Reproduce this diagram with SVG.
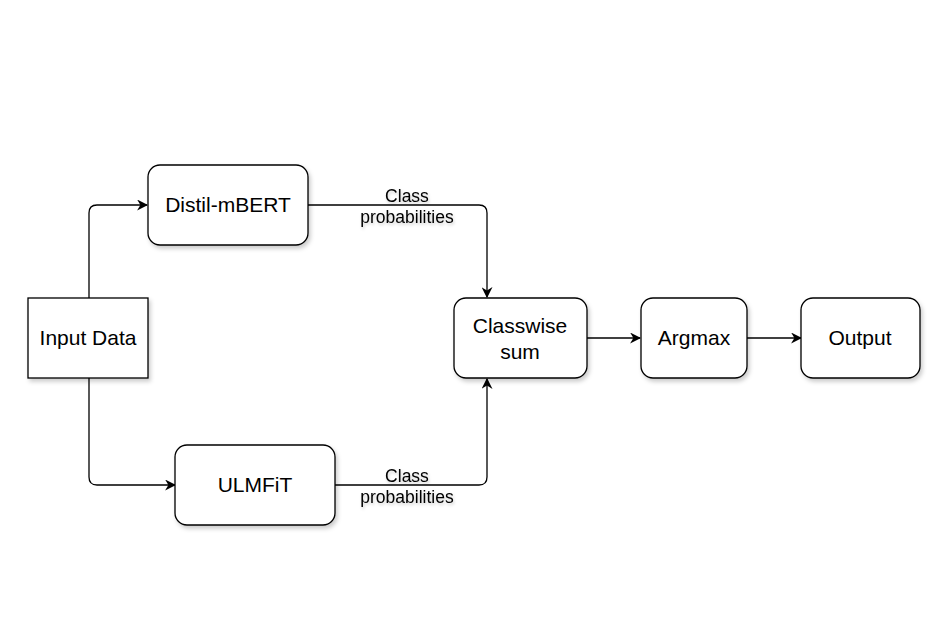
<svg xmlns="http://www.w3.org/2000/svg" width="944" height="623" viewBox="0 0 944 623">
<style>
.box{fill:#fff;stroke:#000;stroke-width:1.3;filter:url(#sh)}
.nt{font-family:"Liberation Sans",Arial,sans-serif;font-size:21px;fill:#000;text-anchor:middle}
.lt{font-family:"Liberation Sans",Arial,sans-serif;font-size:17.5px;fill:#000;text-anchor:middle;filter:url(#tsh)}
.cn{fill:none;stroke:#000;stroke-width:1.3}
</style>
<defs>
<filter id="sh" x="-20%" y="-20%" width="150%" height="150%">
<feDropShadow dx="2" dy="3" stdDeviation="2" flood-color="#000" flood-opacity="0.2"/>
</filter>
<filter id="tsh" x="-20%" y="-30%" width="140%" height="170%">
<feDropShadow dx="1" dy="2" stdDeviation="1.5" flood-color="#000" flood-opacity="0.2"/>
</filter>
<marker id="ar" viewBox="0 0 10 10" refX="9" refY="5" markerWidth="11" markerHeight="11" markerUnits="userSpaceOnUse" orient="auto">
<path d="M0,0 L10,5 L0,10 L3,5 Z" fill="#000"/>
</marker>
</defs>
<rect width="944" height="623" fill="#fff"/>
<g id="connectors">
<path class="cn" d="M89,298 L89,213 Q89,205 97,205 L147,205" marker-end="url(#ar)"/>
<path class="cn" d="M89,378 L89,477 Q89,485 97,485 L175,485" marker-end="url(#ar)"/>
<path class="cn" d="M308,205 L479,205 Q487,205 487,213 L487,297" marker-end="url(#ar)"/>
<path class="cn" d="M335,485 L479,485 Q487,485 487,477 L487,379" marker-end="url(#ar)"/>
<path class="cn" d="M587,338 L640,338" marker-end="url(#ar)"/>
<path class="cn" d="M747,338 L801,338" marker-end="url(#ar)"/>
<text class="lt" x="407" y="202">Class</text>
<text class="lt" x="407" y="223">probabilities</text>
<text class="lt" x="407" y="482">Class</text>
<text class="lt" x="407" y="503">probabilities</text>
</g>
<g id="input">
<rect class="box" x="28" y="298" width="120" height="80"/>
<text class="nt" x="88" y="345">Input Data</text>
</g>
<g id="distil">
<rect class="box" x="148" y="165" width="160" height="80" rx="12"/>
<text class="nt" x="228" y="212">Distil-mBERT</text>
</g>
<g id="ulmfit">
<rect class="box" x="175" y="445" width="160" height="80" rx="12"/>
<text class="nt" x="255" y="492">ULMFiT</text>
</g>
<g id="classwise">
<rect class="box" x="454" y="298" width="133" height="80" rx="12"/>
<text class="nt" x="520" y="333">Classwise</text>
<text class="nt" x="520" y="359">sum</text>
</g>
<g id="argmax">
<rect class="box" x="641" y="298" width="106" height="80" rx="12"/>
<text class="nt" x="694" y="345">Argmax</text>
</g>
<g id="output">
<rect class="box" x="801" y="298" width="119" height="80" rx="12"/>
<text class="nt" x="860" y="345">Output</text>
</g>
</svg>
